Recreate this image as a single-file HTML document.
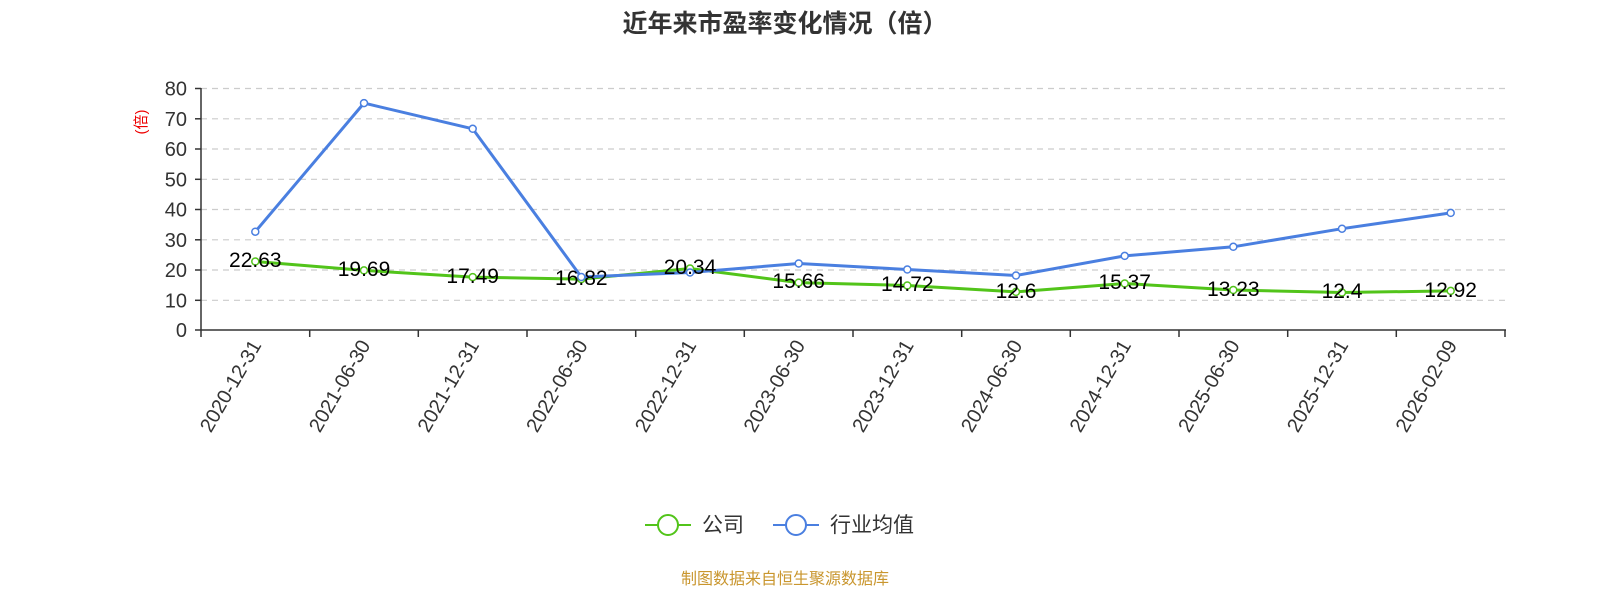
<!DOCTYPE html>
<html><head><meta charset="utf-8"><style>body{margin:0;background:#fff;}svg{display:block;font-family:"Liberation Sans","Noto Sans CJK SC",sans-serif;}</style></head><body>
<svg width="1600" height="600" xmlns="http://www.w3.org/2000/svg">
<text x="785" y="32" text-anchor="middle" font-size="25" font-weight="bold" fill="#333">近年来市盈率变化情况（倍）</text>
<g stroke="#ccc" stroke-dasharray="6,5" stroke-width="1.2">
<line x1="201" x2="1505" y1="88.5" y2="88.5"/><line x1="201" x2="1505" y1="118.8" y2="118.8"/><line x1="201" x2="1505" y1="149" y2="149"/><line x1="201" x2="1505" y1="179.3" y2="179.3"/><line x1="201" x2="1505" y1="209.5" y2="209.5"/><line x1="201" x2="1505" y1="239.8" y2="239.8"/><line x1="201" x2="1505" y1="270" y2="270"/><line x1="201" x2="1505" y1="300.3" y2="300.3"/>
</g>
<line x1="201" x2="201" y1="88" y2="330" stroke="#333" stroke-width="1.5"/>
<line x1="201" x2="1506" y1="330" y2="330" stroke="#333" stroke-width="1.5"/>
<g stroke="#333" stroke-width="1.5">
<line x1="195" x2="201" y1="88.5" y2="88.5"/><line x1="195" x2="201" y1="118.8" y2="118.8"/><line x1="195" x2="201" y1="149" y2="149"/><line x1="195" x2="201" y1="179.3" y2="179.3"/><line x1="195" x2="201" y1="209.5" y2="209.5"/><line x1="195" x2="201" y1="239.8" y2="239.8"/><line x1="195" x2="201" y1="270" y2="270"/><line x1="195" x2="201" y1="300.3" y2="300.3"/><line x1="195" x2="201" y1="330" y2="330"/>
<line x1="201" x2="201" y1="330" y2="337"/><line x1="309.7" x2="309.7" y1="330" y2="337"/><line x1="418.3" x2="418.3" y1="330" y2="337"/><line x1="527" x2="527" y1="330" y2="337"/><line x1="635.7" x2="635.7" y1="330" y2="337"/><line x1="744.3" x2="744.3" y1="330" y2="337"/><line x1="853" x2="853" y1="330" y2="337"/><line x1="961.7" x2="961.7" y1="330" y2="337"/><line x1="1070.3" x2="1070.3" y1="330" y2="337"/><line x1="1179" x2="1179" y1="330" y2="337"/><line x1="1287.7" x2="1287.7" y1="330" y2="337"/><line x1="1396.3" x2="1396.3" y1="330" y2="337"/><line x1="1505" x2="1505" y1="330" y2="337"/>
</g>
<g font-size="20" fill="#333" text-anchor="end">
<text x="187" y="95.5">80</text><text x="187" y="125.8">70</text><text x="187" y="156">60</text><text x="187" y="186.3">50</text><text x="187" y="216.5">40</text><text x="187" y="246.8">30</text><text x="187" y="277">20</text><text x="187" y="307.3">10</text><text x="187" y="337">0</text>
</g>
<text transform="translate(146,122) rotate(-90)" text-anchor="middle" font-size="15" fill="#e00">(倍)</text>
<g font-size="20" fill="#333" text-anchor="end">
<text transform="translate(262,345) rotate(-60)">2020-12-31</text>
<text transform="translate(371,345) rotate(-60)">2021-06-30</text>
<text transform="translate(479.7,345) rotate(-60)">2021-12-31</text>
<text transform="translate(588.3,345) rotate(-60)">2022-06-30</text>
<text transform="translate(697,345) rotate(-60)">2022-12-31</text>
<text transform="translate(805.7,345) rotate(-60)">2023-06-30</text>
<text transform="translate(914.3,345) rotate(-60)">2023-12-31</text>
<text transform="translate(1023,345) rotate(-60)">2024-06-30</text>
<text transform="translate(1131.7,345) rotate(-60)">2024-12-31</text>
<text transform="translate(1240.3,345) rotate(-60)">2025-06-30</text>
<text transform="translate(1349,345) rotate(-60)">2025-12-31</text>
<text transform="translate(1457.7,345) rotate(-60)">2026-02-09</text>
</g>
<polyline fill="none" stroke="#52c41a" stroke-width="3" points="255.3,261.5 364,270.4 472.7,277.1 581.3,279.1 690,268.5 798.7,282.6 907.3,285.5 1016,291.9 1124.7,283.5 1233.3,290 1342,292.5 1450.7,290.9"/>
<g fill="#fff" stroke="#52c41a" stroke-width="1.5">
<circle cx="255.3" cy="261.5" r="3.5"/><circle cx="364" cy="270.4" r="3.5"/><circle cx="472.7" cy="277.1" r="3.5"/><circle cx="581.3" cy="279.1" r="3.5"/><circle cx="690" cy="268.5" r="3.5"/><circle cx="798.7" cy="282.6" r="3.5"/><circle cx="907.3" cy="285.5" r="3.5"/><circle cx="1016" cy="291.9" r="3.5"/><circle cx="1124.7" cy="283.5" r="3.5"/><circle cx="1233.3" cy="290" r="3.5"/><circle cx="1342" cy="292.5" r="3.5"/><circle cx="1450.7" cy="290.9" r="3.5"/>
</g>
<polyline fill="none" stroke="#4a7fe0" stroke-width="3" points="255.3,231.7 364,103.1 472.7,128.8 581.3,277 690,272.5 798.7,263.5 907.3,269.5 1016,275.5 1124.7,255.9 1233.3,246.8 1342,228.7 1450.7,212.9"/>
<g fill="#fff" stroke="#4a7fe0" stroke-width="1.5">
<circle cx="255.3" cy="231.7" r="3.5"/><circle cx="364" cy="103.1" r="3.5"/><circle cx="472.7" cy="128.8" r="3.5"/><circle cx="581.3" cy="277" r="3.5"/><circle cx="690" cy="272.5" r="3.5"/><circle cx="798.7" cy="263.5" r="3.5"/><circle cx="907.3" cy="269.5" r="3.5"/><circle cx="1016" cy="275.5" r="3.5"/><circle cx="1124.7" cy="255.9" r="3.5"/><circle cx="1233.3" cy="246.8" r="3.5"/><circle cx="1342" cy="228.7" r="3.5"/><circle cx="1450.7" cy="212.9" r="3.5"/>
</g>
<g font-size="21" fill="#000" text-anchor="middle">
<text x="255.3" y="267">22.63</text><text x="364" y="276">19.69</text><text x="472.7" y="283">17.49</text><text x="581.3" y="285">16.82</text><text x="690" y="274">20.34</text><text x="798.7" y="288">15.66</text><text x="907.3" y="291">14.72</text><text x="1016" y="298">12.6</text><text x="1124.7" y="289">15.37</text><text x="1233.3" y="296">13.23</text><text x="1342" y="298">12.4</text><text x="1450.7" y="297">12.92</text>
</g>
<line x1="645" x2="691" y1="525" y2="525" stroke="#52c41a" stroke-width="2"/>
<circle cx="668" cy="525" r="10" fill="#fff" stroke="#52c41a" stroke-width="2"/>
<text x="702" y="532" font-size="21" fill="#333">公司</text>
<line x1="773" x2="819" y1="525" y2="525" stroke="#4a7fe0" stroke-width="2"/>
<circle cx="796" cy="525" r="10" fill="#fff" stroke="#4a7fe0" stroke-width="2"/>
<text x="830" y="532" font-size="21" fill="#333">行业均值</text>
<text x="785" y="584" text-anchor="middle" font-size="16" fill="#c9962e">制图数据来自恒生聚源数据库</text>
</svg>
</body></html>
